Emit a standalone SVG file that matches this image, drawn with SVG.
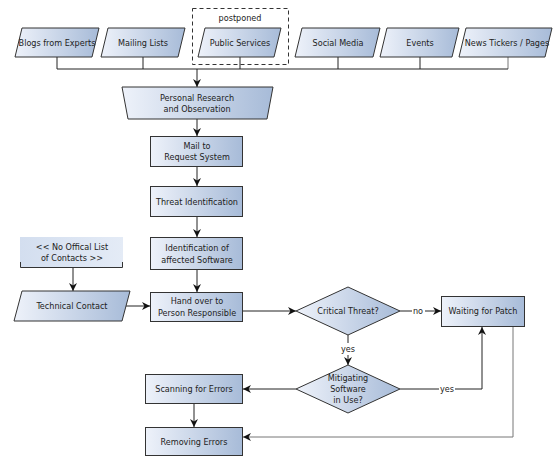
<svg xmlns="http://www.w3.org/2000/svg" width="553" height="456" viewBox="0 0 553 456">
<defs>
  <linearGradient id="g" x1="0" y1="0" x2="1" y2="0">
    <stop offset="0" stop-color="#eef2fa"/>
    <stop offset="1" stop-color="#a7bbd8"/>
  </linearGradient>
  <linearGradient id="g2" x1="0" y1="0" x2="1" y2="0">
    <stop offset="0" stop-color="#d3deef"/>
    <stop offset="1" stop-color="#e4ebf6"/>
  </linearGradient>
  <marker id="a" viewBox="0 0 10 10" refX="10" refY="5" markerWidth="9" markerHeight="8" markerUnits="userSpaceOnUse" orient="auto">
    <path d="M0,0 L10,5 L0,10 L3,5 z" fill="#111"/>
  </marker>
</defs>
<style>
  .n { fill: url(#g); stroke: #333; stroke-width: 1; }
  .t { font-family: "DejaVu Sans Condensed", "Liberation Sans", sans-serif; font-size: 9px; fill: #222; text-anchor: middle; dominant-baseline: central; }
  .c { fill: none; stroke: #222; stroke-width: 1; }
  .cg { fill: none; stroke: #777; stroke-width: 1; }
  .ar { marker-end: url(#a); }
  .lb { fill: #fff; }
</style>
<rect width="553" height="456" fill="#fff"/>

<g id="connectors">
  <path class="c" d="M57,57 V69 M143,57 V69 M240,57 V69 M338,57 V69 M420,57 V69"/>
  <path class="cg" d="M508,57 V69"/>
  <path class="c" d="M57,69 H508"/>
  <path class="c ar" d="M197,69 V87"/>
  <path class="c ar" d="M197,119 V136"/>
  <path class="c ar" d="M197,167 V186"/>
  <path class="c ar" d="M197,217 V237"/>
  <path class="c ar" d="M197,270 V292"/>
  <path class="c ar" d="M73,267 V291"/>
  <path class="c ar" d="M126,306 H150"/>
  <path class="c ar" d="M243,311 H296"/>
  <path class="c ar" d="M400,311 H441"/>
  <rect class="lb" x="412" y="305" width="13" height="12"/>
  <text class="t" x="418" y="311">no</text>
  <path class="c ar" d="M348,335 V365"/>
  <rect class="lb" x="340" y="343" width="16" height="12"/>
  <text class="t" x="348" y="349">yes</text>
  <path class="c ar" d="M296,389 H243"/>
  <path class="c ar" d="M194,404 V427"/>
  <path class="c ar" d="M400,389 H482 V327"/>
  <rect class="lb" x="439" y="383" width="16" height="12"/>
  <text class="t" x="447" y="389">yes</text>
  <path class="cg ar" d="M513,326 V437 H243"/>
</g>

<g id="postponed">
  <rect x="192.5" y="8.5" width="96" height="56" fill="none" stroke="#333" stroke-dasharray="4,3"/>
  <text class="t" x="240" y="18">postponed</text>
</g>

<g id="blogs">
  <polygon class="n" points="22,28 99,28 92,57 15,57"/>
  <text class="t" x="57" y="43">Blogs from Experts</text>
</g>
<g id="mailing">
  <polygon class="n" points="108,28 185,28 178,57 101,57"/>
  <text class="t" x="143" y="43">Mailing Lists</text>
</g>
<g id="public">
  <polygon class="n" points="205,28 281,28 274,57 198,57"/>
  <text class="t" x="240" y="43">Public Services</text>
</g>
<g id="social">
  <polygon class="n" points="302,28 380,28 373,57 295,57"/>
  <text class="t" x="338" y="43">Social Media</text>
</g>
<g id="events">
  <polygon class="n" points="387,28 459,28 452,57 380,57"/>
  <text class="t" x="420" y="43">Events</text>
</g>
<g id="news">
  <polygon class="n" points="466,28 552,28 545,57 459,57"/>
  <text class="t" x="507" y="43">News Tickers / Pages</text>
</g>

<g id="research">
  <polygon class="n" points="122,87 273,87 267,119 128,119"/>
  <text class="t" x="197" y="98">Personal Research</text>
  <text class="t" x="197" y="109">and Observation</text>
</g>
<g id="mail">
  <rect class="n" x="150.5" y="136.5" width="92" height="30"/>
  <text class="t" x="197" y="146">Mail to</text>
  <text class="t" x="197" y="157">Request System</text>
</g>
<g id="threat">
  <rect class="n" x="150.5" y="186.5" width="92" height="30"/>
  <text class="t" x="197" y="201.5">Threat Identification</text>
</g>
<g id="identification">
  <rect class="n" x="150.5" y="237.5" width="92" height="32"/>
  <text class="t" x="197" y="248">Identification of</text>
  <text class="t" x="197" y="260">affected Software</text>
</g>
<g id="handover">
  <rect class="n" x="150.5" y="292.5" width="92" height="29"/>
  <text class="t" x="197" y="301">Hand over to</text>
  <text class="t" x="197" y="313">Person Responsible</text>
</g>
<g id="nolist">
  <rect x="20" y="237" width="103" height="30" fill="url(#g2)"/>
  <path d="M20.5,262 V267.5 H122.5 V262" fill="none" stroke="#333"/>
  <text class="t" x="72" y="247">&lt;&lt; No Offical List</text>
  <text class="t" x="72" y="258">of Contacts &gt;&gt;</text>
</g>
<g id="technical">
  <polygon class="n" points="22,291 130,291 122,321 14,321"/>
  <text class="t" x="72" y="306">Technical Contact</text>
</g>
<g id="critical">
  <polygon class="n" points="296,311 348,287 400,311 348,335"/>
  <text class="t" x="348" y="311">Critical Threat?</text>
</g>
<g id="waiting">
  <rect class="n" x="441.5" y="296.5" width="83" height="30"/>
  <text class="t" x="483" y="311">Waiting for Patch</text>
</g>
<g id="mitigating">
  <polygon class="n" points="296,389 348,365 400,389 348,413"/>
  <text class="t" x="348" y="378">Mitigating</text>
  <text class="t" x="348" y="389">Software</text>
  <text class="t" x="348" y="400">in Use?</text>
</g>
<g id="scanning">
  <rect class="n" x="145.5" y="374.5" width="97" height="29"/>
  <text class="t" x="194" y="389">Scanning for Errors</text>
</g>
<g id="removing">
  <rect class="n" x="145.5" y="427.5" width="97" height="28"/>
  <text class="t" x="194" y="442">Removing Errors</text>
</g>
</svg>
